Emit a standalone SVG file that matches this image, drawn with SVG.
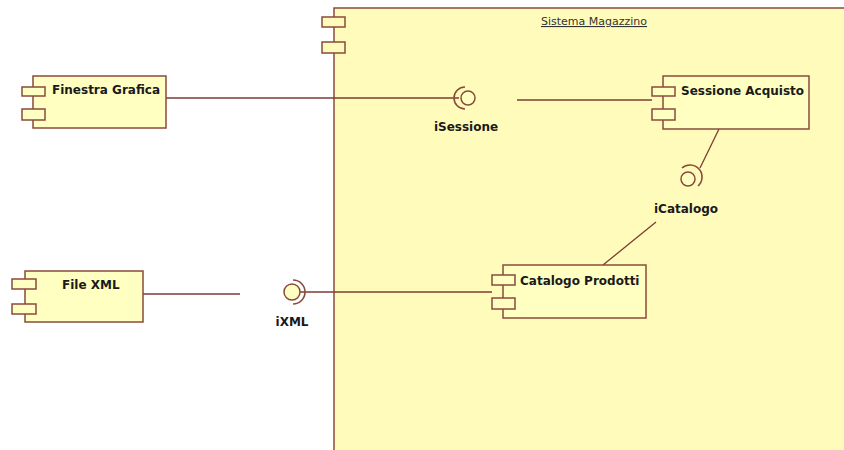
<svg xmlns="http://www.w3.org/2000/svg" width="844" height="450" viewBox="0 0 844 450">
<style>
.box{fill:#ffffc2;stroke:#8a4a3c;stroke-width:1.5}
.port{fill:#ffffc2;stroke:#8a4a3c;stroke-width:1.5}
.conn{stroke:#7e3b33;stroke-width:1.3;fill:none}
.lbl{font-family:"DejaVu Sans",Tahoma,sans-serif;font-weight:bold;font-size:12px;fill:#1a1a1a}
.ttl{font-family:"DejaVu Sans",Tahoma,sans-serif;font-size:11px;fill:#333;text-decoration:underline}
.ball{fill:#ffffc2;stroke:#8a4a3c;stroke-width:1.5}
.sock{fill:none;stroke:#8a4a3c;stroke-width:1.6}
</style>
<rect width="844" height="450" fill="#ffffff"/>
<g id="sistema-magazzino">
<rect class="box" x="334" y="8" width="520" height="450" style="fill:#fffcbb"/>
<rect class="port" x="322" y="17" width="23" height="10" style="fill:#fffcbb"/>
<rect class="port" x="322" y="42" width="23" height="11" style="fill:#fffcbb"/>
<text class="ttl" x="594" y="25" text-anchor="middle">Sistema Magazzino</text>
</g>
<g id="connectors">
<line class="conn" x1="166" y1="98" x2="459" y2="98"/>
<line class="conn" x1="517" y1="100" x2="652" y2="100"/>
<line class="conn" x1="719" y1="129" x2="700" y2="168"/>
<line class="conn" x1="656" y1="222" x2="603" y2="265"/>
<line class="conn" x1="143" y1="294" x2="240" y2="294"/>
<line class="conn" x1="300" y1="292" x2="492" y2="292"/>
</g>
<g id="finestra-grafica">
<rect class="box" x="33" y="76" width="133" height="52"/>
<rect class="port" x="22" y="87" width="23" height="9"/>
<rect class="port" x="22" y="109" width="23" height="11"/>
<text class="lbl" x="52" y="94">Finestra Grafica</text>
</g>
<g id="sessione-acquisto">
<rect class="box" x="663" y="76" width="146" height="53"/>
<rect class="port" x="652" y="87" width="23" height="9"/>
<rect class="port" x="652" y="109" width="23" height="11"/>
<text class="lbl" x="681" y="95">Sessione Acquisto</text>
</g>
<g id="catalogo-prodotti">
<rect class="box" x="503" y="265" width="143" height="53"/>
<rect class="port" x="492" y="275" width="23" height="10"/>
<rect class="port" x="492" y="298" width="23" height="11"/>
<text class="lbl" x="520" y="285">Catalogo Prodotti</text>
</g>
<g id="file-xml">
<rect class="box" x="25" y="271" width="118" height="51"/>
<rect class="port" x="12" y="279" width="24" height="10"/>
<rect class="port" x="12" y="304" width="24" height="10"/>
<text class="lbl" x="62" y="289">File XML</text>
</g>
<g id="iSessione">
<circle class="ball" cx="468" cy="98" r="7"/>
<path class="sock" d="M465,87 A11,11 0 0 0 465,109"/>
<text class="lbl" x="466" y="131" text-anchor="middle">iSessione</text>
</g>
<g id="iCatalogo">
<circle class="ball" cx="688" cy="179" r="7"/>
<path class="sock" d="M682,168 A11,11 0 0 1 698,186"/>
<text class="lbl" x="686" y="213" text-anchor="middle">iCatalogo</text>
</g>
<g id="iXML">
<circle class="ball" cx="292" cy="292" r="8"/>
<path class="sock" d="M293,280 A12,12 0 0 1 293,304"/>
<text class="lbl" x="292" y="326" text-anchor="middle">iXML</text>
</g>
</svg>
